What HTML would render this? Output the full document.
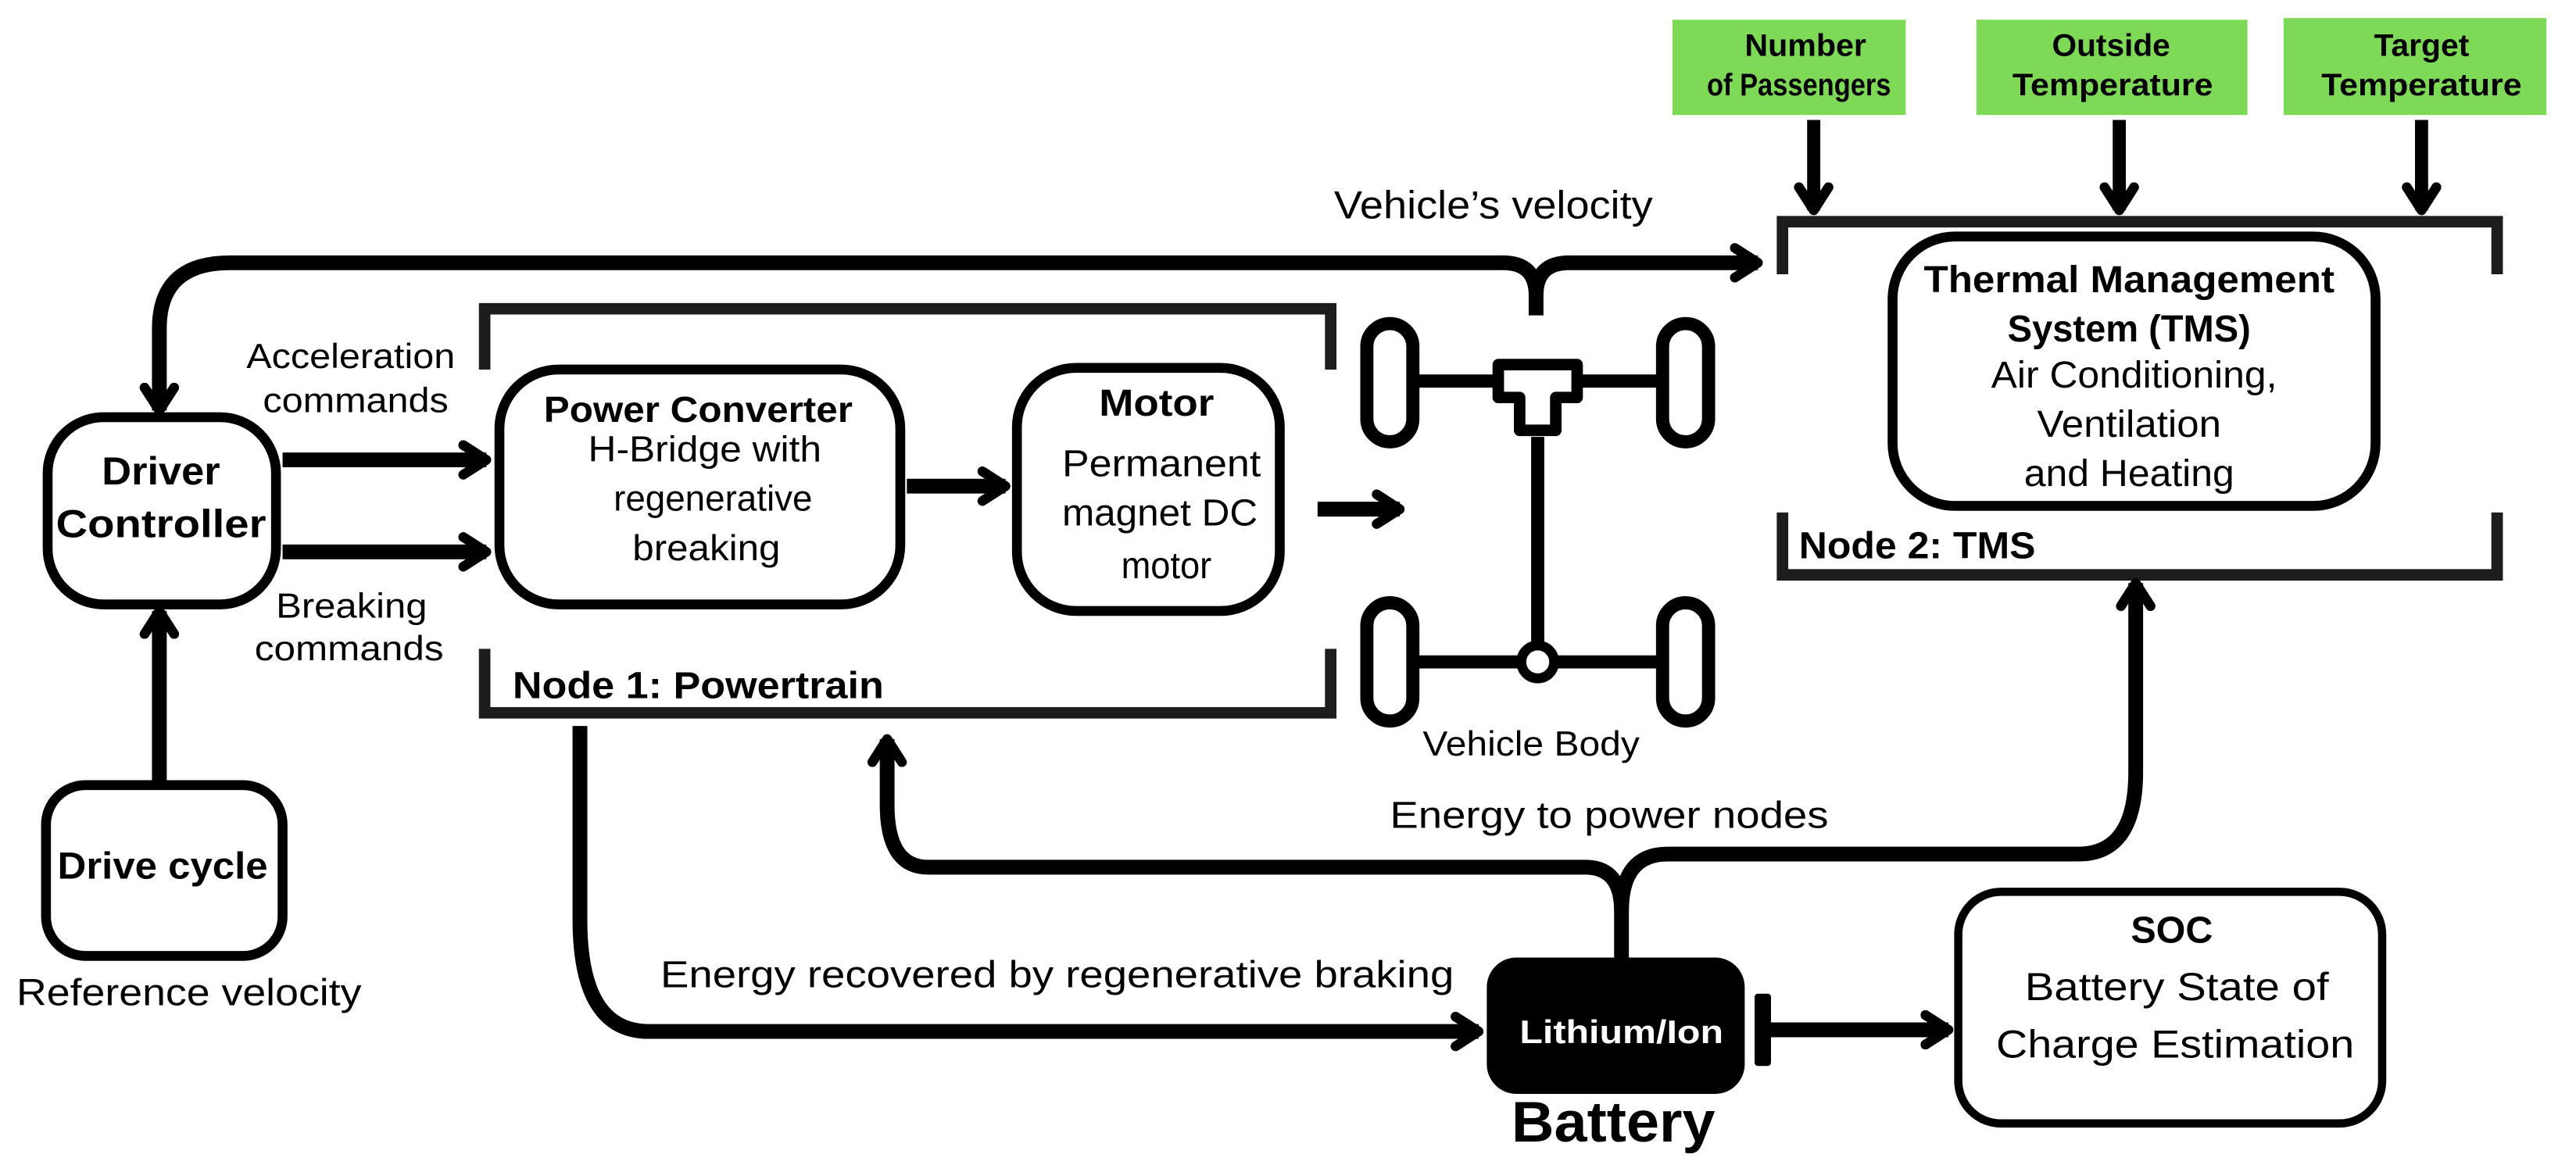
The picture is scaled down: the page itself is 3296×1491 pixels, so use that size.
<!DOCTYPE html>
<html><head><meta charset="utf-8"><style>
html,body{margin:0;padding:0;background:#fff}
svg{display:block}
text{font-family:"Liberation Sans Narrow","Liberation Sans",sans-serif;fill:#000}
.b{font-weight:bold}
</style></head><body>
<svg width="3296" height="1491" viewBox="0 0 1568 709.3" preserveAspectRatio="none" xmlns="http://www.w3.org/2000/svg">
<defs>
<marker id="ah" markerUnits="userSpaceOnUse" viewBox="0 0 20 24" refX="17" refY="12" markerWidth="20" markerHeight="24" orient="auto">
<path d="M3,3 L17,12 L3,21" fill="none" stroke="#000" stroke-width="6" stroke-linecap="round" stroke-linejoin="round"/>
</marker>
</defs>
<g fill="#7ed957">
<rect x="1018" y="12" width="142" height="58"/>
<rect x="1203" y="12" width="165" height="58"/>
<rect x="1390" y="11" width="160" height="59"/>
</g>
<g font-size="19" text-anchor="middle">
<text x="1099" y="34" class="b" textLength="74" lengthAdjust="spacingAndGlyphs">Number</text><text x="1095" y="58" class="b" textLength="112" lengthAdjust="spacingAndGlyphs">of Passengers</text>
<text x="1285" y="34" class="b" textLength="72" lengthAdjust="spacingAndGlyphs">Outside</text><text x="1286" y="58" class="b" textLength="122" lengthAdjust="spacingAndGlyphs">Temperature</text>
<text x="1474" y="34" class="b" textLength="58" lengthAdjust="spacingAndGlyphs">Target</text><text x="1474" y="58" class="b" textLength="122" lengthAdjust="spacingAndGlyphs">Temperature</text>
</g>
<g fill="none" stroke="#000" stroke-width="8" stroke-linecap="butt">
<path d="M1104,73 V128" marker-end="url(#ah)"/>
<path d="M1290,73 V128" marker-end="url(#ah)"/>
<path d="M1474,73 V128" marker-end="url(#ah)"/>
</g>
<g fill="none" stroke="#1f1d1b" stroke-width="7">
<path d="M1085,167 V135 H1520 V167"/>
<path d="M1085,312 V350 H1520 V312"/>
<path d="M295,225 V188 H810 V225"/>
<path d="M295,395 V434 H810 V395"/>
</g>
<g fill="none" stroke="#000" stroke-width="6">
<rect x="1152" y="144" width="294" height="164" rx="38"/>
<rect x="304" y="225" width="244" height="143" rx="36"/>
<rect x="619" y="224" width="160" height="148" rx="36"/>
<rect x="29" y="254" width="139" height="114" rx="34"/>
<rect x="28" y="478" width="144" height="104" rx="24"/>
<rect x="1192" y="543" width="258" height="141" rx="26" stroke-width="5"/>
</g>
<text x="1296" y="178" font-size="23" text-anchor="middle" class="b" textLength="250" lengthAdjust="spacingAndGlyphs">Thermal Management</text>
<text x="1296" y="208" font-size="23" text-anchor="middle" class="b" textLength="148" lengthAdjust="spacingAndGlyphs">System (TMS)</text>
<text x="1299" y="236" font-size="23" text-anchor="middle" textLength="174" lengthAdjust="spacingAndGlyphs">Air Conditioning,</text>
<text x="1296" y="266" font-size="23" text-anchor="middle" textLength="112" lengthAdjust="spacingAndGlyphs">Ventilation</text>
<text x="1296" y="296" font-size="23" text-anchor="middle" textLength="128" lengthAdjust="spacingAndGlyphs">and Heating</text>
<text x="1095" y="340" font-size="23" class="b" textLength="144" lengthAdjust="spacingAndGlyphs">Node 2: TMS</text>
<text x="812" y="133" font-size="24" textLength="194" lengthAdjust="spacingAndGlyphs">Vehicle’s velocity</text>
<text x="425" y="257" font-size="22" text-anchor="middle" class="b" textLength="188" lengthAdjust="spacingAndGlyphs">Power Converter</text>
<text x="429" y="281" font-size="22" text-anchor="middle" textLength="142" lengthAdjust="spacingAndGlyphs">H-Bridge with</text>
<text x="434" y="311" font-size="22" text-anchor="middle" textLength="121" lengthAdjust="spacingAndGlyphs">regenerative</text>
<text x="430" y="341" font-size="22" text-anchor="middle" textLength="90" lengthAdjust="spacingAndGlyphs">breaking</text>
<text x="704" y="253" font-size="23" text-anchor="middle" class="b" textLength="70" lengthAdjust="spacingAndGlyphs">Motor</text>
<text x="707" y="290" font-size="23" text-anchor="middle" textLength="121" lengthAdjust="spacingAndGlyphs">Permanent</text>
<text x="706" y="320" font-size="23" text-anchor="middle" textLength="119" lengthAdjust="spacingAndGlyphs">magnet DC</text>
<text x="710" y="352" font-size="23" text-anchor="middle" textLength="55" lengthAdjust="spacingAndGlyphs">motor</text>
<text x="98" y="295" font-size="24" text-anchor="middle" class="b" textLength="72" lengthAdjust="spacingAndGlyphs">Driver</text>
<text x="98" y="327" font-size="24" text-anchor="middle" class="b" textLength="128" lengthAdjust="spacingAndGlyphs">Controller</text>
<text x="99" y="535" font-size="23" text-anchor="middle" class="b" textLength="128" lengthAdjust="spacingAndGlyphs">Drive cycle</text>
<text x="10" y="612" font-size="23" textLength="210" lengthAdjust="spacingAndGlyphs">Reference velocity</text>
<text x="150" y="224" font-size="21" textLength="127" lengthAdjust="spacingAndGlyphs">Acceleration</text>
<text x="160" y="251" font-size="21" textLength="113" lengthAdjust="spacingAndGlyphs">commands</text>
<text x="168" y="376" font-size="21" textLength="92" lengthAdjust="spacingAndGlyphs">Breaking</text>
<text x="155" y="402" font-size="21" textLength="115" lengthAdjust="spacingAndGlyphs">commands</text>
<text x="312" y="425" font-size="23" class="b" textLength="226" lengthAdjust="spacingAndGlyphs">Node 1: Powertrain</text>
<text x="866" y="460" font-size="21" textLength="132" lengthAdjust="spacingAndGlyphs">Vehicle Body</text>
<text x="846" y="504" font-size="23" textLength="267" lengthAdjust="spacingAndGlyphs">Energy to power nodes</text>
<text x="402" y="601" font-size="23" textLength="483" lengthAdjust="spacingAndGlyphs">Energy recovered by regenerative braking</text>
<text x="1322" y="574" font-size="23" text-anchor="middle" class="b" textLength="50" lengthAdjust="spacingAndGlyphs">SOC</text>
<text x="1325" y="609" font-size="24" text-anchor="middle" textLength="185" lengthAdjust="spacingAndGlyphs">Battery State of</text>
<text x="1324" y="644" font-size="24" text-anchor="middle" textLength="218" lengthAdjust="spacingAndGlyphs">Charge Estimation</text>
<g fill="none" stroke="#000" stroke-width="9" stroke-linejoin="round">
<path d="M172,280 H296" marker-end="url(#ah)"/>
<path d="M172,336 H296" marker-end="url(#ah)"/>
<path d="M552,296 H612" marker-end="url(#ah)"/>
<path d="M802,310 H852" marker-end="url(#ah)"/>
<path d="M97,475 V372" marker-end="url(#ah)"/>
<path d="M935,192 V180 Q935,160 915,160 H140 Q97,160 97,200 V250" marker-end="url(#ah)"/>
<path d="M935,180 Q935,160 955,160 H1070" marker-end="url(#ah)"/>
<path d="M353,442 V560 Q353,628 395,628 H900" marker-end="url(#ah)"/>
<path d="M987,583 V555 Q987,528 965,528 H565 Q540,528 540,490 V450" marker-end="url(#ah)"/>
<path d="M987,555 Q987,520 1015,520 H1265 Q1300,520 1300,470 V355" marker-end="url(#ah)"/>
<path d="M1075,627 H1186" marker-end="url(#ah)"/>
</g>
<rect x="1068" y="605" width="10" height="44" rx="2" fill="#000"/>
<rect x="905" y="583" width="157" height="83" rx="18" fill="#000"/>
<text x="987" y="635" font-size="20" text-anchor="middle" class="b" style="fill:#fff" textLength="124" lengthAdjust="spacingAndGlyphs">Lithium/Ion</text>
<text x="982" y="695" font-size="35" text-anchor="middle" class="b" textLength="124" lengthAdjust="spacingAndGlyphs">Battery</text>
<g fill="none" stroke="#000" stroke-width="8">
<rect x="832" y="197" width="28" height="72" rx="14"/>
<rect x="1012" y="197" width="28" height="72" rx="14"/>
<rect x="832" y="367" width="28" height="72" rx="14"/>
<rect x="1012" y="367" width="28" height="72" rx="14"/>
<path d="M860,232 H912 M960,232 H1012"/>
<path d="M860,403 H926 M946,403 H1012"/>
<path d="M936,266 V393"/>
<path d="M912,222 H960 V242 H947 V262 H925 V242 H912 Z" stroke-width="7" stroke-linejoin="round"/>
<circle cx="936" cy="403" r="10" stroke-width="6"/>
</g>
</svg>
</body></html>
